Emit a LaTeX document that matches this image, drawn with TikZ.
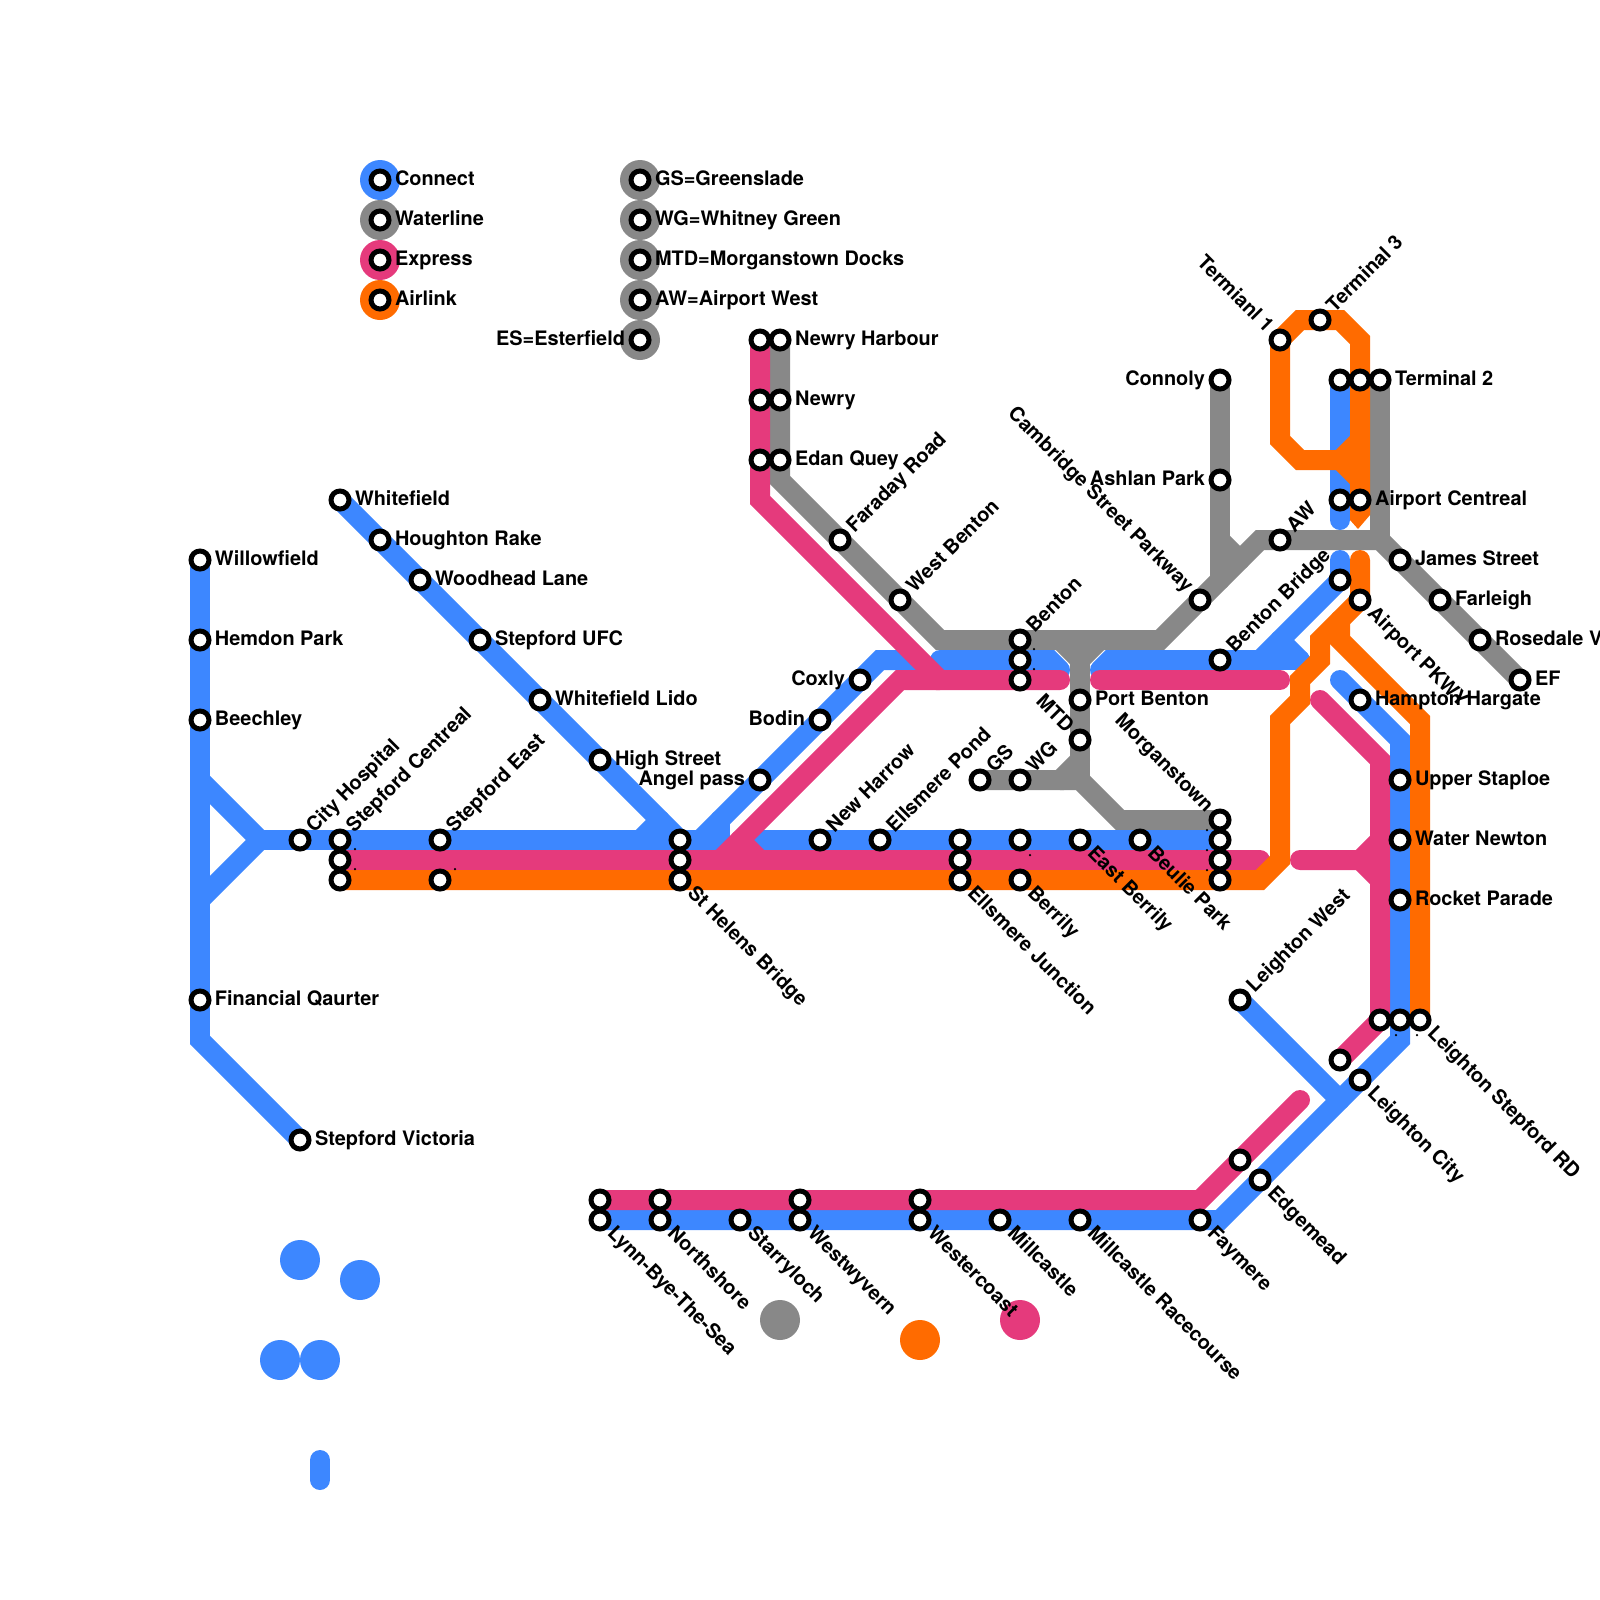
\documentclass[tikz,border=0pt]{standalone}
\usepackage{fontspec}
\setmainfont{TeX Gyre Heros}
\pgfdeclarelayer{lines}
\pgfsetlayers{lines,main}
\definecolor{cblue}{HTML}{3D87FF}
\definecolor{cgray}{HTML}{888888}
\definecolor{cpink}{HTML}{E53A7C}
\definecolor{corange}{HTML}{FF6B00}
\tikzset{
  stn/.style={circle,draw=black,fill=white,line width=0.1cm,minimum size=0.36cm,inner sep=0pt,outer sep=0pt},
  disc/.style={circle,fill=#1,minimum size=0.8cm,inner sep=0pt,outer sep=0pt},
  speck/.style={circle,fill=black,minimum size=0.05cm,inner sep=0pt,outer sep=0pt},
  metro/.style={line width=0.4cm,line cap=round,line join=miter,draw=#1},
  lab/.style={font=\fontsize{11.34pt}{12pt}\selectfont\bfseries,inner sep=0pt,outer sep=0pt},
  lr/.style={lab,anchor=base west,xshift=0.3cm,yshift=-0.11cm},
  ll/.style={lab,anchor=base east,xshift=-0.3cm,yshift=-0.11cm},
  lur/.style={lab,anchor=base west,rotate=45,xshift=0.3cm,yshift=-0.11cm},
  ldr/.style={lab,anchor=base west,rotate=-45,xshift=0.3cm,yshift=-0.11cm},
  lul/.style={lab,anchor=base east,rotate=-45,xshift=-0.3cm,yshift=-0.11cm},
}
\newcommand{\stn}[3]{\node[stn] (#1) at (#2,#3) {};}
\begin{document}
\begin{tikzpicture}[x=0.02cm,y=-0.02cm]
\useasboundingbox (0,0) rectangle (1600,1600);
% free-standing discs
\node[disc=cblue] (d1) at (300,1260) {};
\node[disc=cblue] (d2) at (360,1280) {};
\node[disc=cblue] (d3) at (280,1360) {};
\node[disc=cblue] (d4) at (320,1360) {};
\node[disc=cgray] (d5) at (780,1320) {};
\node[disc=corange] (d6) at (920,1340) {};
\node[disc=cpink] (d7) at (1020,1320) {};
% legend discs
\node[disc=cblue] (k1) at (380,180) {};
\node[disc=cgray] (k2) at (380,220) {};
\node[disc=cpink] (k3) at (380,260) {};
\node[disc=corange] (k4) at (380,300) {};
\node[disc=cgray] (k5) at (640,180) {};
\node[disc=cgray] (k6) at (640,220) {};
\node[disc=cgray] (k7) at (640,260) {};
\node[disc=cgray] (k8) at (640,300) {};
\node[disc=cgray] (k9) at (640,340) {};
% stations
\stn{lgA}{380}{180}\stn{lgB}{380}{220}\stn{lgC}{380}{260}\stn{lgD}{380}{300}
\stn{lgE}{640}{180}\stn{lgF}{640}{220}\stn{lgG}{640}{260}\stn{lgH}{640}{300}\stn{lgI}{640}{340}
\stn{willow}{200}{560}\stn{hemdon}{200}{640}\stn{beech}{200}{720}\stn{fin}{200}{1000}\stn{victoria}{300}{1140}
\stn{cityh}{300}{840}
\stn{scb}{340}{840}\stn{scp}{340}{860}\stn{sco}{340}{880}
\stn{seb}{440}{840}\stn{seo}{440}{880}
\stn{whitef}{340}{500}\stn{hough}{380}{540}\stn{wood}{420}{580}\stn{ufc}{480}{640}\stn{lido}{540}{700}\stn{high}{600}{760}
\stn{shb}{680}{840}\stn{shp}{680}{860}\stn{sho}{680}{880}
\stn{angel}{760}{780}\stn{bodin}{820}{720}\stn{coxly}{860}{680}
\stn{harrow}{820}{840}\stn{epond}{880}{840}
\stn{ejb}{960}{840}\stn{ejp}{960}{860}\stn{ejo}{960}{880}
\stn{berb}{1020}{840}\stn{bero}{1020}{880}
\stn{eberr}{1080}{840}\stn{beulie}{1140}{840}
\stn{mog}{1220}{820}\stn{mob}{1220}{840}\stn{mop}{1220}{860}\stn{moo}{1220}{880}
\stn{gs}{980}{780}\stn{wg}{1020}{780}\stn{mtd}{1080}{740}\stn{portb}{1080}{700}
\stn{beng}{1020}{640}\stn{benb}{1020}{660}\stn{benp}{1020}{680}
\stn{nhp}{760}{340}\stn{nhg}{780}{340}\stn{nwp}{760}{400}\stn{nwg}{780}{400}\stn{eqp}{760}{460}\stn{eqg}{780}{460}
\stn{farad}{840}{540}\stn{wbent}{900}{600}
\stn{bbridge}{1220}{660}\stn{camb}{1200}{600}\stn{conn}{1220}{380}\stn{ashlan}{1220}{480}\stn{aw}{1280}{540}
\stn{term1}{1280}{340}\stn{term3}{1320}{320}
\stn{t2b}{1340}{380}\stn{t2o}{1360}{380}\stn{t2g}{1380}{380}
\stn{acb}{1340}{500}\stn{aco}{1360}{500}
\stn{apb}{1340}{580}\stn{apo}{1360}{600}
\stn{james}{1400}{560}\stn{farl}{1440}{600}\stn{rose}{1480}{640}\stn{ef}{1520}{680}
\stn{hampton}{1360}{700}\stn{upper}{1400}{780}\stn{water}{1400}{840}\stn{rocket}{1400}{900}
\stn{lsp}{1380}{1020}\stn{lsb}{1400}{1020}\stn{lso}{1420}{1020}
\stn{lcp}{1340}{1060}\stn{lcb}{1360}{1080}\stn{lwest}{1240}{1000}
\stn{edp}{1240}{1160}\stn{edb}{1260}{1180}
\stn{fay}{1200}{1220}\stn{racec}{1080}{1220}\stn{mill}{1000}{1220}
\stn{wcp}{920}{1200}\stn{wcb}{920}{1220}
\stn{wyp}{800}{1200}\stn{wyb}{800}{1220}
\stn{starry}{740}{1220}
\stn{nsp}{660}{1200}\stn{nsb}{660}{1220}
\stn{lyp}{600}{1200}\stn{lyb}{600}{1220}
% tiny marks
\foreach \n/\a/\b in {sk1/355/849,sk2/355/869,sk3/455/869,sk4/1034/649,sk5/1034/669,sk6/1030/855,sk7/1207/830,sk8/1207/850,sk9/1207/870,sk10/1396/1035,sk11/1417/1035}
  \node[speck] (\n) at (\a,\b) {};
% labels
\node[lr] (tA) at (lgA.center) {Connect};
\node[lr] (tB) at (lgB.center) {Waterline};
\node[lr] (tC) at (lgC.center) {Express};
\node[lr] (tD) at (lgD.center) {Airlink};
\node[lr] (tE) at (lgE.center) {GS=Greenslade};
\node[lr] (tF) at (lgF.center) {WG=Whitney Green};
\node[lr] (tG) at (lgG.center) {MTD=Morganstown Docks};
\node[lr] (tH) at (lgH.center) {AW=Airport West};
\node[ll] (tI) at (lgI.center) {ES=Esterfield};
\node[lr] at (willow.center) {Willowfield};
\node[lr] at (hemdon.center) {Hemdon Park};
\node[lr] at (beech.center) {Beechley};
\node[lr] at (fin.center) {Financial Qaurter};
\node[lr] at (victoria.center) {Stepford Victoria};
\node[lr] at (whitef.center) {Whitefield};
\node[lr] at (hough.center) {Houghton Rake};
\node[lr] at (wood.center) {Woodhead Lane};
\node[lr] at (ufc.center) {Stepford UFC};
\node[lr] at (lido.center) {Whitefield Lido};
\node[lr] at (high.center) {High Street};
\node[lr] at (nhg.center) {Newry Harbour};
\node[lr] at (nwg.center) {Newry};
\node[lr] at (eqg.center) {Edan Quey};
\node[lr] at (portb.center) {Port Benton};
\node[lr] at (t2g.center) {Terminal 2};
\node[lr] at (aco.center) {Airport Centreal};
\node[lr] at (james.center) {James Street};
\node[lr] at (farl.center) {Farleigh};
\node[lr] at (rose.center) {Rosedale V};
\node[lr] at (ef.center) {EF};
\node[lr] at (hampton.center) {Hampton Hargate};
\node[lr] at (upper.center) {Upper Staploe};
\node[lr] at (water.center) {Water Newton};
\node[lr] at (rocket.center) {Rocket Parade};
\node[ll] at (coxly.center) {Coxly};
\node[ll] at (bodin.center) {Bodin};
\node[ll] at (angel.center) {Angel pass};
\node[ll] at (conn.center) {Connoly};
\node[ll] at (ashlan.center) {Ashlan Park};
\node[lur] at (cityh.center) {City Hospital};
\node[lur] at (scb.center) {Stepford Centreal};
\node[lur] at (seb.center) {Stepford East};
\node[lur] at (farad.center) {Faraday Road};
\node[lur] at (wbent.center) {West Benton};
\node[lur] at (harrow.center) {New Harrow};
\node[lur] at (epond.center) {Ellsmere Pond};
\node[lur] at (gs.center) {GS};
\node[lur] at (wg.center) {WG};
\node[lur] at (beng.center) {Benton};
\node[lur] at (aw.center) {AW};
\node[lur] at (bbridge.center) {Benton Bridge};
\node[lur] at (term3.center) {Terminal 3};
\node[lur] at (lwest.center) {Leighton West};
\node[ldr] at (sho.center) {St Helens Bridge};
\node[ldr] at (ejo.center) {Ellsmere Junction};
\node[ldr] at (bero.center) {Berrily};
\node[ldr] at (eberr.center) {East Berrily};
\node[ldr] at (beulie.center) {Beulie Park};
\node[ldr] at (lso.center) {Leighton Stepford RD};
\node[ldr] at (lcb.center) {Leighton City};
\node[ldr] at (edb.center) {Edgemead};
\node[ldr] at (fay.center) {Faymere};
\node[ldr] at (racec.center) {Millcastle Racecourse};
\node[ldr] at (mill.center) {Millcastle};
\node[ldr] at (wcb.center) {Westercoast};
\node[ldr] at (wyb.center) {Westwyvern};
\node[ldr] at (starry.center) {Starryloch};
\node[ldr] at (nsb.center) {Northshore};
\node[ldr] at (lyb.center) {Lynn-Bye-The-Sea};
\node[ldr] at (apo.center) {Airport PKWY};
\node[lul] at (term1.center) {Termianl 1};
\node[lul] at (camb.center) {Cambridge Street Parkway};
\node[lul] at (mtd.center) {MTD};
\node[lul] at (mog.center) {Morganstown};
% lines
\begin{pgfonlayer}{lines}
% Waterline
\draw[metro=cgray] (nhg.center) -- (780,480) -- (940,640) -- (1160,640) -- (1260,540) -- (1380,540) -- (ef.center);
\draw[metro=cgray] (t2g.center) -- (1380,540);
\draw[metro=cgray] (conn.center) -- (1220,580);
\draw[metro=cgray] (1220,540) -- (1240,560);
\draw[metro=cgray] (1060,640) -- (1080,660) -- (1100,640);
\draw[metro=cgray] (1080,640) -- (1080,780);
\draw[metro=cgray] (1080,760) -- (1060,780) -- (gs.center);
\draw[metro=cgray] (1060,780) -- (1080,780) -- (1120,820) -- (mog.center);
% Connect
\draw[metro=cblue] (willow.center) -- (200,1040) -- (victoria.center);
\draw[metro=cblue] (200,780) -- (260,840) -- (200,900);
\draw[metro=cblue] (260,840) -- (720,840) -- (720,820);
\draw[metro=cblue] (whitef.center) -- (shb.center);
\draw[metro=cblue] (640,840) -- (660,820);
\draw[metro=cblue] (700,840) -- (880,660) -- (915,660);
\draw[metro=cblue] (940,660) -- (1050,660) -- (1060,670);
\draw[metro=cblue] (1100,670) -- (1110,660) -- (1260,660) -- (apb.center) -- (1340,560);
\draw[metro=cblue] (1260,660) -- (1300,660);
\draw[metro=cblue] (1280,640) -- (1300,660);
\draw[metro=cblue] (t2b.center) -- (1340,520);
\draw[metro=cblue] (1340,680) -- (1400,740) -- (1400,1040) -- (1220,1220) -- (lyb.center);
\draw[metro=cblue] (lwest.center) -- (1340,1100);
\draw[metro=cblue] (750,840) -- (mob.center);
\draw[metro=cblue] (320,1460) -- (320,1480);
% Express
\draw[metro=cpink] (scp.center) -- (1260,860);
\draw[metro=cpink] (nhp.center) -- (760,500) -- (940,680) -- (1060,680);
\draw[metro=cpink] (720,860) -- (900,680) -- (940,680);
\draw[metro=cpink] (740,840) -- (760,860);
\draw[metro=cpink] (1100,680) -- (1280,680);
\draw[metro=cpink] (1320,700) -- (1380,760) -- (lsp.center) -- (lcp.center);
\draw[metro=cpink] (1300,860) -- (1360,860) -- (1380,840);
\draw[metro=cpink] (1360,860) -- (1380,880);
\draw[metro=cpink] (1300,1100) -- (1200,1200) -- (lyp.center);
% Airlink
\draw[metro=corange] (sco.center) -- (1260,880) -- (1280,860) -- (1280,720) -- (1300,700) -- (1300,680) -- (1320,660) -- (1320,640) -- (apo.center) -- (1360,560);
\draw[metro=corange] (1340,620) -- (1340,640) -- (1420,720) -- (lso.center);
\draw[metro=corange,line cap=butt] (1360,512) -- (1360,340) -- (1340,320) -- (1300,320) -- (1280,340) -- (1280,440) -- (1300,460) -- (1340,460) -- (1360,440);
\draw[metro=corange] (1340,460) -- (1360,480);
\fill[corange] (1350,510) -- (1350,520) -- (1358,529) -- (1370,515) -- (1370,510) -- cycle;
\end{pgfonlayer}
\end{tikzpicture}
\end{document}
